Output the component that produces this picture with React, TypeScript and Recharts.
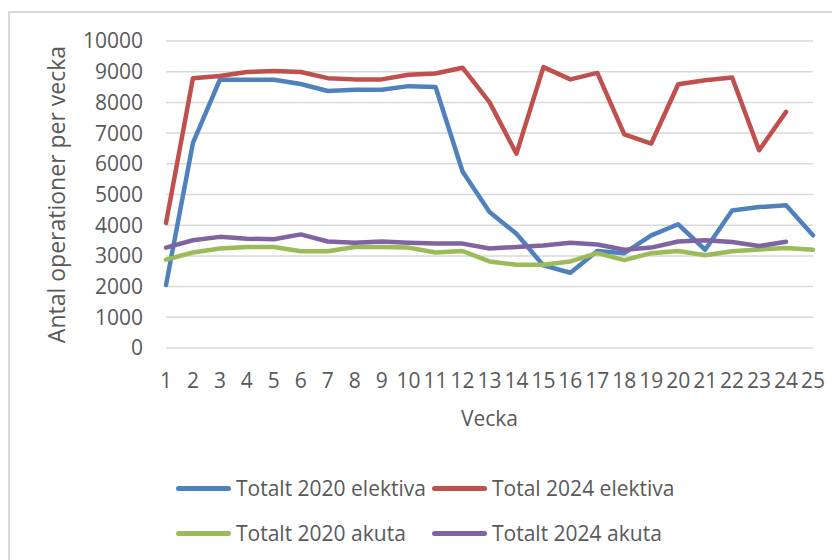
import React from "react";
import { LineChart, Line, XAxis, YAxis, CartesianGrid, Legend } from "recharts";

// Veckor 1–25, antal operationer per vecka
const weeks = Array.from({ length: 25 }, (_, i) => String(i + 1));

const elektiva2020 = [2050, 6680, 8740, 8740, 8740, 8600, 8370, 8410, 8410, 8530, 8500, 5750, 4430, 3720, 2690, 2450, 3160, 3090, 3670, 4030, 3200, 4480, 4590, 4650, 3670];
const elektiva2024 = [4070, 8790, 8860, 8990, 9020, 8990, 8790, 8750, 8750, 8900, 8940, 9130, 8010, 6330, 9150, 8750, 8960, 6960, 6660, 8590, 8720, 8810, 6440, 7690, null];
const akuta2020 = [2880, 3110, 3240, 3290, 3290, 3150, 3150, 3290, 3290, 3270, 3110, 3160, 2820, 2710, 2710, 2820, 3090, 2860, 3090, 3160, 3020, 3150, 3210, 3260, 3200];
const akuta2024 = [3270, 3510, 3620, 3560, 3540, 3700, 3470, 3430, 3470, 3430, 3400, 3400, 3240, 3290, 3340, 3430, 3370, 3200, 3270, 3470, 3510, 3450, 3320, 3460, null];

const yTicks = [0, 1000, 2000, 3000, 4000, 5000, 6000, 7000, 8000, 9000, 10000];

const series = [
  { key: "e2020", name: "Totalt 2020 elektiva", color: "#4F81BD", values: elektiva2020 },
  { key: "e2024", name: "Total 2024 elektiva", color: "#C0504D", values: elektiva2024 },
  { key: "a2020", name: "Totalt 2020 akuta", color: "#9BBB59", values: akuta2020 },
  { key: "a2024", name: "Totalt 2024 akuta", color: "#8064A2", values: akuta2024 },
];

const data = weeks.map((w, i) => {
  const row: any = { week: w };
  for (const s of series) row[s.key] = s.values[i];
  return row;
});

const TEXT = "#595959";

// legend in series order, two columns like the original
function LegendGrid() {
  return (
    <div style={{ position: "relative", height: 90 }}>
      {series.map((s, i) => (
        <div
          key={s.key}
          style={{
            position: "absolute",
            left: i % 2 ? 432 : 176,
            top: Math.floor(i / 2) * 45,
            height: 36,
            display: "flex",
            alignItems: "center",
            whiteSpace: "nowrap",
          }}
        >
          <span style={{ display: "inline-block", width: 55, height: 5, borderRadius: 3, background: s.color }} />
          <span style={{ marginLeft: 5, fontSize: 21, color: TEXT }}>{s.name}</span>
        </div>
      ))}
    </div>
  );
}

export default function App() {
  return (
    <div style={{ position: "absolute", left: 0, top: 0, width: 832, height: 560, overflow: "hidden", background: "#fff", fontFamily: "'Open Sans', sans-serif" }}>
      <div style={{ position: "absolute", left: 8, top: 11, width: 900, height: 600, border: "2px solid #D9D9D9", boxSizing: "border-box" }} />
      <LineChart width={832} height={560} data={data} margin={{ top: 41, right: 19, bottom: 182, left: 66 }}>
        <CartesianGrid vertical={false} stroke="#D9D9D9" strokeWidth={1.5} />
        <XAxis
          dataKey="week"
          interval={0}
          axisLine={false}
          tickLine={false}
          tickSize={0}
          tickMargin={25}
          height={30}
          tick={{ fill: TEXT, fontSize: 21 }}
          label={{ value: "Vecka", position: "bottom", offset: 33, fill: TEXT, fontSize: 21 }}
        />
        <YAxis
          width={100}
          domain={[0, 10000]}
          ticks={yTicks}
          interval={0}
          axisLine={false}
          tickLine={false}
          tickSize={0}
          tickMargin={23}
          tick={{ fill: TEXT, fontSize: 21 }}
          label={{ value: "Antal operationer per vecka", angle: -90, position: "insideLeft", offset: -4, dx: -5, fill: TEXT, fontSize: 23, style: { textAnchor: "middle" } }}
        />
        {series.map((s) => (
          <Line
            key={s.key}
            dataKey={s.key}
            name={s.name}
            stroke={s.color}
            strokeWidth={4.5}
            strokeLinejoin="round"
            strokeLinecap="round"
            dot={false}
            activeDot={false}
            isAnimationActive={false}
          />
        ))}
        <Legend
          layout="horizontal"
          verticalAlign="middle"
          align="center"
          content={<LegendGrid />}
          wrapperStyle={{ left: 0, top: 470, width: 832, height: 90 }}
        />
      </LineChart>
    </div>
  );
}
